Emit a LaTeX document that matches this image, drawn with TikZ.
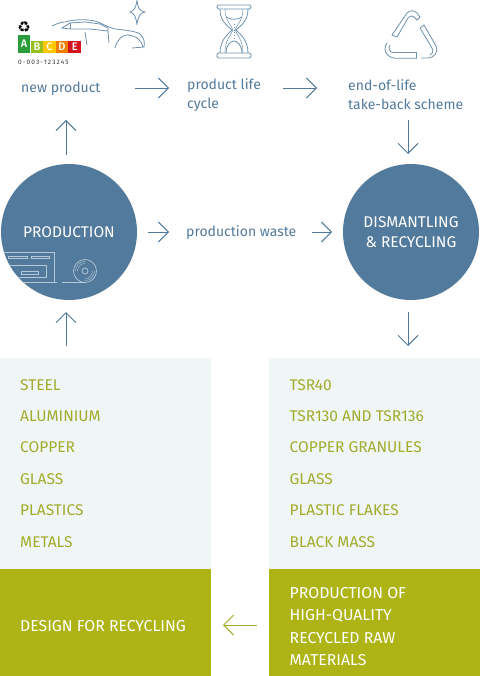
\documentclass[tikz,border=0pt]{standalone}
\usepackage{fontspec}
\setmainfont{Fira Sans}
\newfontfamily\symfont{DejaVu Sans}
\newfontfamily\ratingfont{Fira Sans Medium}
\usetikzlibrary{arrows.meta,positioning}
\definecolor{steelblue}{HTML}{527A9C}
\definecolor{paleblue}{HTML}{F0F5F8}
\definecolor{moss}{HTML}{AEB416}
\definecolor{mosstext}{HTML}{A3AC2A}
\definecolor{iconblue}{HTML}{6E90AE}
\definecolor{sketchline}{HTML}{B5C8D8}
\definecolor{ratea}{HTML}{2A9D3A}
\definecolor{rateb}{HTML}{95C11F}
\definecolor{ratec}{HTML}{FDC800}
\definecolor{rated}{HTML}{EF7D00}
\definecolor{ratee}{HTML}{D6141E}
\begin{document}
\begin{tikzpicture}[
  x=1pt, y=-1pt,
  >={Straight Barb[length=10pt,width=20pt]},
  flow/.style={->, draw=steelblue, line width=0.9pt},
  flowgrey/.style={->, draw=mosstext, line width=0.9pt},
  bluetext/.style={anchor=west, inner sep=0pt, text=steelblue, font=\fontsize{14}{19}\selectfont, align=left},
  mosslabel/.style={anchor=west, inner sep=0pt, text=mosstext, font=\fontsize{15.5}{19}\selectfont},
  whitelabel/.style={anchor=west, inner sep=0pt, text=white, font=\fontsize{15.8}{22.5}\selectfont, align=left},
  hub/.style={circle, fill=steelblue, text=white, inner sep=0pt, minimum size=136pt, align=center, font=\fontsize{15.5}{19.5}\selectfont},
  icon/.style={draw=iconblue, line width=0.8pt},
  sketch/.style={draw=sketchline, line width=0.7pt},
  rating/.style={inner sep=0pt, anchor=south west, text=white, font=\ratingfont\fontsize{11}{11}\selectfont, minimum height=12pt}
]
  \useasboundingbox (0,0) rectangle (480,676);

  % panels
  \fill[paleblue] (0,358) rectangle (211,569);
  \fill[paleblue] (269,358) rectangle (480,569);
  \fill[moss] (0,569) rectangle (211,676);
  \fill[moss] (269,569) rectangle (480,676);

  % circles
  \node[hub] (production) at (69,232) {PRODUCTION};
  \node[hub] (dismantling) at (411,232) {DISMANTLING\\\& RECYCLING};

  % top row
  \node[bluetext] (newproduct) at (21,89) {new product};
  \node[bluetext] (lifecycle) at (187,95.5) {product life\\cycle};
  \node[bluetext] (takeback) at (348,95) {end-of-life\\take-back scheme};
  \node[bluetext] (waste) at (186,233) {production waste};

  % arrows
  \coordinate (a1) at (135,88);  \coordinate (a2) at (169,88);
  \coordinate (b1) at (283,88);  \coordinate (b2) at (317,88);
  \coordinate (c1) at (408,120); \coordinate (c2) at (408,154);
  \coordinate (d1) at (66,155);  \coordinate (d2) at (66,120);
  \coordinate (e1) at (148,232); \coordinate (e2) at (169,232);
  \coordinate (f1) at (312,232); \coordinate (f2) at (332,232);
  \coordinate (g1) at (408,312); \coordinate (g2) at (408,346);
  \coordinate (h1) at (66,346);  \coordinate (h2) at (66,312);
  \coordinate (i1) at (257,625); \coordinate (i2) at (223,625);
  \draw[flow] (a1) -- (a2);
  \draw[flow] (b1) -- (b2);
  \draw[flow] (c1) -- (c2);
  \draw[flow] (d1) -- (d2);
  \draw[flow] (e1) -- (e2);
  \draw[flow] (f1) -- (f2);
  \draw[flow] (g1) -- (g2);
  \draw[flow] (h1) -- (h2);
  \draw[flowgrey] (i1) -- (i2);

  % material lists
  \foreach \name/\ypos/\txt in {steel/385/STEEL, alu/416/ALUMINIUM, copper/447/COPPER,
      glassa/479/GLASS, plastics/510/PLASTICS, metals/542/METALS}
    \node[mosslabel] (\name) at (20,\ypos) {\txt};
  \foreach \name/\ypos/\txt in {tsrforty/385/TSR40, tsrmore/416/TSR130 AND TSR136, granules/447/COPPER GRANULES,
      glassb/479/GLASS, flakes/510/PLASTIC FLAKES, blackmass/542/BLACK MASS}
    \node[mosslabel] (\name) at (289.5,\ypos) {\txt};

  \node[whitelabel] (design) at (20,626) {DESIGN FOR RECYCLING};
  \node[whitelabel] (rawmat) at (289.5,626.5) {PRODUCTION OF\\HIGH-QUALITY\\RECYCLED RAW\\MATERIALS};

  % rating label
  \node[inner sep=0pt, font=\symfont\fontsize{15}{15}\selectfont] (recsym) at (24,27) {\char"267B};
  \node[rating, fill=ratea, minimum width=12pt, minimum height=18pt] (ra) at (18,53) {A};
  \node[rating, fill=rateb, minimum width=12.5pt] (rb) at (30.5,53) {B};
  \node[rating, fill=ratec, minimum width=12.5pt] (rc) at (43,53) {C};
  \node[rating, fill=rated, minimum width=12.5pt] (rd) at (55.5,53) {D};
  \node[rating, fill=ratee, minimum width=13pt] (re) at (68,53) {E};
  \node[inner sep=0pt, anchor=west, text=black!80, font=\fontsize{6.5}{7}\selectfont] (code) at (18,62) {0\,-\,0\,0\,3\,-\,1\,2\,3\,2\,4\,5};

  % car
  \draw[icon] (52,26) .. controls (58,23) and (62,22) .. (65,22) .. controls (75,19) and (90,19) .. (98,22)
     .. controls (105,25) and (110,28) .. (115,29) .. controls (125,30) and (135,31) .. (140,34)
     .. controls (144,38) and (145,42) .. (144,47) -- (132,48);
  \draw[icon] (62,28) -- (70,23) -- (85,22) -- (100,24) -- (108,28) -- (108,31) -- (90,29) -- (85,29) -- (70,29) -- cycle;
  \draw[icon] (70,23) -- (70,29);
  \draw[icon] (115,48) .. controls (117,40) and (122,35) .. (127,35) .. controls (136,35) and (142,41) .. (143,47);
  \draw[icon] (85,32) -- (87,45);
  \draw[icon] (108,31) -- (109,43);
  % star
  \draw[icon] (137,0) .. controls (138,8) and (139,11) .. (145,12) .. controls (140,13) and (138,17) .. (137,24)
     .. controls (136,17) and (134,13) .. (130,12) .. controls (134,11) and (136,8) .. (137,0);

  % hourglass
  \draw[icon, rounded corners=1.5pt] (217,5) rectangle (251,9);
  \draw[icon, rounded corners=1.5pt] (217,53) rectangle (251,58);
  \draw[icon] (220,9) .. controls (220,22) and (228,26) .. (232,30) .. controls (228,34) and (220,40) .. (220,53);
  \draw[icon] (248,9) .. controls (248,22) and (240,26) .. (236,30) .. controls (240,34) and (248,40) .. (248,53);
  \draw[icon, line width=0.5pt] (225,9) .. controls (225,20) and (231,25) .. (233,30) .. controls (231,35) and (225,40) .. (225,53);
  \draw[icon, line width=0.5pt] (243,9) .. controls (243,20) and (237,25) .. (235,30) .. controls (237,35) and (243,40) .. (243,53);
  \draw[icon] (226,17) .. controls (231,20) and (237,20) .. (242,17);
  \draw[icon] (226,53) .. controls (226,45) and (231,41) .. (234,41) .. controls (237,41) and (242,45) .. (242,53);
  \draw[icon, dotted] (234,24) -- (234,40);

  % triangle arrows
  \draw[icon] (392,35) -- (407,13) .. controls (410,10) and (414,10) .. (417,13) -- (420,17) -- (417,20)
     -- (414,17) .. controls (412,15) and (410,16) .. (408,18) -- (397,37) -- cycle;
  \draw[icon] (420,28) -- (424,25) -- (436,46) .. controls (439,52) and (434,58) .. (428,58) -- (421,58);
  \draw[icon] (420,28) -- (432,48) .. controls (434,52) and (432,54) .. (430,55);
  \draw[icon] (416.5,52.5) -- (416.5,58.3) -- (396,58.3) .. controls (387,58) and (382,50) .. (387,43);
  \draw[icon] (416.5,52.5) -- (393,52.5) .. controls (389,52) and (388,48) .. (390,45);

  % plant sketch in the circle
  \begin{scope}
    \clip (production.center) circle (68);
    \draw[sketch] (0,252) -- (54,252) -- (54,282) -- (0,282);
    \draw[sketch] (54,282) -- (57,282);
    \draw[sketch] (8,256) rectangle (27,258.5);
    \draw[sketch] (31,256) rectangle (49,258.5);
    \draw[sketch] (0,265) -- (46,265) -- (46,277) -- (0,277);
    \draw[sketch] (21,271) rectangle (38,274);
    \draw[sketch] (62,282) -- (85,282);
    \draw[sketch] (85,271) circle (11.5);
    \draw[sketch] (85,271) circle (3);
    \draw[sketch, line width=0.4pt] (85,271) ++(180:9.5) arc (180:270:9.5);
    \draw[sketch, line width=0.4pt] (85,271) ++(180:7.5) arc (180:270:7.5);
    \draw[sketch, line width=0.4pt] (85,271) ++(0:9.5) arc (0:90:9.5);
    \draw[sketch, line width=0.4pt] (85,271) ++(0:7.5) arc (0:90:7.5);
  \end{scope}
\end{tikzpicture}
\end{document}
